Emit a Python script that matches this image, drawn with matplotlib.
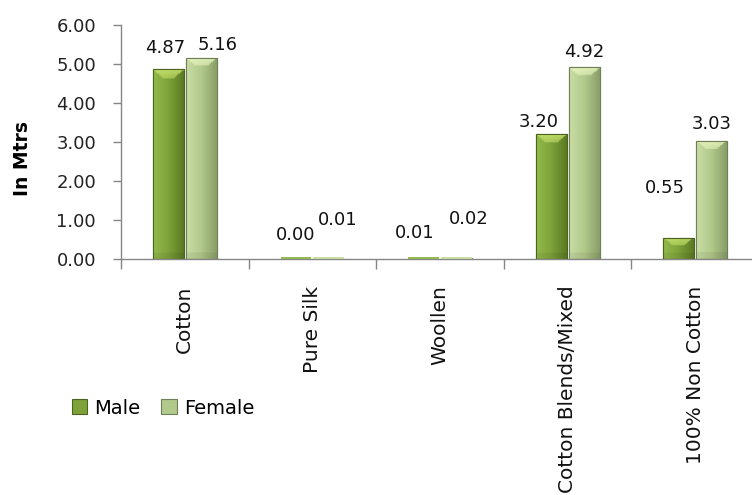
import numpy as np
import matplotlib
matplotlib.use("Agg")
import matplotlib.pyplot as plt
from matplotlib.colors import to_rgb
from matplotlib.patches import Rectangle

# Average cloth use per person, by fabric type
categories = ["Cotton", "Pure Silk", "Woollen", "Cotton Blends/Mixed", "100% Non Cotton"]
male = [4.87, 0.00, 0.01, 3.20, 0.55]
female = [5.16, 0.01, 0.02, 4.92, 3.03]
series_names = ["Male", "Female"]
y_ticks = [0.0, 1.0, 2.0, 3.0, 4.0, 5.0, 6.0]

# label nudges (pixels) so neighbouring value labels do not collide
male_label_offsets = [(-3, 16), (0, 19), (-9, 21), (-12, 7), (-14, 45)]
female_label_offsets = [(16, 8), (9, 34), (12, 34), (0, 10), (0, 12)]

plt.rcParams["font.family"] = ["DejaVu Sans"]

fig = plt.figure(figsize=(7.52, 4.95), dpi=100)
ax = fig.add_axes([121 / 752, 236 / 495, 638 / 752, 234 / 495])

bar_w = 0.242
shift = 0.129
x = np.arange(len(categories))

styles = {
    "Male": dict(left="#93ba4c", mid="#7da23a", right="#5b7a22",
                 top="#c4e06a", edge="#4d6420"),
    "Female": dict(left="#c8dda4", mid="#b1c98b", right="#8a9f69",
                   top="#e6f3bd", edge="#6f7f57"),
}


def bevel_image(st, h_units, px_per_unit=39.0):
    """Build an RGBA array: horizontal shading plus a light bevel at the top."""
    rows, cols = 120, 40
    l, m, r = (np.array(to_rgb(st[k])) for k in ("left", "mid", "right"))
    t = np.linspace(0, 1, cols)
    horiz = np.empty((cols, 3))
    for i, tv in enumerate(t):
        if tv < 0.5:
            horiz[i] = l + (m - l) * (tv / 0.5)
        else:
            horiz[i] = m + (r - m) * ((tv - 0.5) / 0.5)
    img = np.repeat(horiz[None, :, :], rows, axis=0)
    h_px = max(h_units * px_per_unit, 1e-6)
    band = min(8.0 / h_px, 0.5)
    bottom_band = min(6.0 / h_px, 0.3)
    top = np.array(to_rgb(st["top"]))
    yy = np.linspace(1, 0, rows)  # row 0 = top of bar
    for j, yv in enumerate(yy):
        if yv > 1 - band:
            f = (yv - (1 - band)) / band
            inner = np.abs(t - 0.5) < 0.5 - 0.3 * (1 - f)
            w = 0.55 + 0.35 * f
            img[j, inner] = img[j, inner] * (1 - w) + top * w
        elif yv < bottom_band:
            img[j] = img[j] * 0.94
    alpha = np.ones((rows, cols, 1))
    return np.concatenate([img, alpha], axis=2)


def draw_series(xs, vals, st, label):
    bars = ax.bar(xs, vals, width=bar_w, color=st["mid"], edgecolor=st["edge"],
                  linewidth=0.8, label=label, zorder=2)
    for b, v in zip(bars, vals):
        x0 = b.get_x()
        w = b.get_width()
        if v < 0.05:
            # near-zero values still show as a thin sliver on the axis
            ax.add_patch(Rectangle((x0, 0), w, 0.05, facecolor=st["left"],
                                   edgecolor="none", zorder=3))
            continue
        im = ax.imshow(bevel_image(st, v), extent=(x0, x0 + w, 0, v),
                       aspect="auto", zorder=2.5, interpolation="bilinear")
        clip = Rectangle((x0, 0), w, v, transform=ax.transData)
        im.set_clip_path(clip)
        ax.add_patch(Rectangle((x0, 0), w, v, fill=False,
                               edgecolor=st["edge"], linewidth=0.8, zorder=3))
    return bars


male_bars = draw_series(x - shift, male, styles["Male"], series_names[0])
female_bars = draw_series(x + shift, female, styles["Female"], series_names[1])

for bars, vals, offs in ((male_bars, male, male_label_offsets),
                         (female_bars, female, female_label_offsets)):
    for b, v, (dx, dy) in zip(bars, vals, offs):
        ax.annotate(f"{v:.2f}", (b.get_x() + b.get_width() / 2, v),
                    xytext=(dx, dy), textcoords="offset pixels",
                    ha="center", va="baseline", fontsize=13, color="#111111",
                    zorder=5)

ax.set_xlim(-0.5, len(categories) - 0.5)
ax.set_ylim(0, 6)
ax.set_yticks(y_ticks)
ax.set_yticklabels([f"{v:.2f}" for v in y_ticks])
ax.set_xticks(x)
ax.set_xticklabels(categories, rotation=90, fontsize=14.5, color="#111111")
ax.set_xticks(np.arange(len(categories) + 1) - 0.5, minor=True)
ax.tick_params(axis="x", which="major", length=0, pad=19)
ax.tick_params(axis="x", which="minor", length=7, color="#868686", width=1)
ax.tick_params(axis="y", length=6, color="#868686", width=1, pad=12,
               labelsize=13, labelcolor="#222222")

for side in ("top", "right"):
    ax.spines[side].set_visible(False)
for side in ("left", "bottom"):
    ax.spines[side].set_color("#868686")
    ax.spines[side].set_linewidth(1)

ax.set_ylabel("In Mtrs", fontsize=13.5, fontweight="bold")
ax.yaxis.set_label_coords(-0.14, 0.43)

handles = [Rectangle((0, 0), 1, 1, facecolor=styles[n]["mid"],
                     edgecolor=styles[n]["edge"], linewidth=0.8)
           for n in series_names]
fig.legend(handles, series_names, loc="upper left",
           bbox_to_anchor=(54 / 752, 1 - 381 / 495), ncol=2, frameon=False,
           fontsize=14, handlelength=0.8, handleheight=0.8,
           handletextpad=0.35, columnspacing=1.1)

fig.savefig("out.png", dpi=100)
